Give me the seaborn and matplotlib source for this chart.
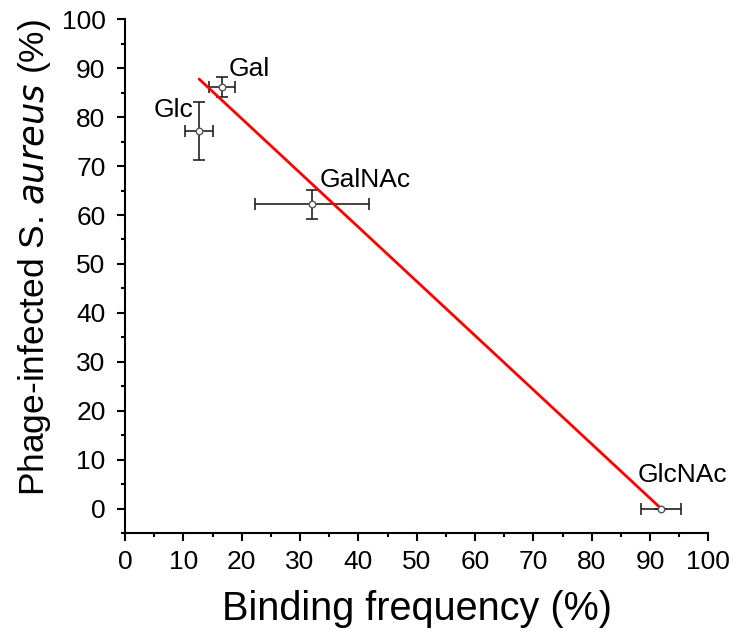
import numpy as np
import pandas as pd
import seaborn as sns
import matplotlib.pyplot as plt
from matplotlib.ticker import MultipleLocator

# данные
sugars = ["Gal", "Glc", "GalNAc", "GlcNAc"]
binding = [16.6, 12.7, 32.1, 91.9]
binding_err = [2.2, 2.4, 9.8, 3.4]
infected = [86.2, 77.2, 62.2, 0.0]
infected_err = [2.0, 6.0, 3.0, 0.0]

# линия тренда (концы)
fit_x = [12.7, 91.9]
fit_y = [87.8, 0.0]

# позиции подписей
label_x = [17.7, 11.7, 33.4, 87.8]
label_y = [89.8, 81.5, 67.1, 6.8]
label_ha = ["left", "right", "left", "left"]

df = pd.DataFrame({"sugar": sugars, "binding": binding, "infected": infected})
fit = pd.DataFrame({"x": fit_x, "y": fit_y})

sns.set_style("ticks")
plt.rcParams["font.family"] = ["Liberation Sans", "DejaVu Sans"]
plt.rcParams["text.color"] = "black"
plt.rcParams["axes.labelcolor"] = "black"

fig = plt.figure(figsize=(7.38, 6.38), dpi=100)
ax = fig.add_axes([0.1694, 0.1646, 0.7904, 0.8051])

ax.errorbar(binding, infected, xerr=binding_err, yerr=infected_err,
            fmt="none", ecolor="#222222", elinewidth=1.2, capsize=4, capthick=1.2, zorder=2)
sns.lineplot(data=fit, x="x", y="y", color="red", linewidth=2, ax=ax, zorder=3)
sns.scatterplot(data=df, x="binding", y="infected", ax=ax, s=22, color="white",
                edgecolor="#555555", linewidth=1, zorder=4)

for s, lx, ly, ha in zip(sugars, label_x, label_y, label_ha):
    ax.text(lx, ly, s, fontsize=19, ha=ha, va="center", color="black")

ax.set_xlim(0, 100)
ax.set_ylim(-5, 100)
ax.xaxis.set_major_locator(MultipleLocator(10))
ax.xaxis.set_minor_locator(MultipleLocator(5))
ax.yaxis.set_major_locator(MultipleLocator(10))
ax.yaxis.set_minor_locator(MultipleLocator(5))
ax.tick_params(which="both", colors="black")
ax.tick_params(which="major", direction="out", length=6, width=1.5, labelsize=19)
ax.tick_params(which="minor", direction="out", length=3, width=1.5)
ax.tick_params(axis="y", which="major", pad=8)
ax.tick_params(axis="x", which="major", pad=6)
for side in ["left", "bottom"]:
    ax.spines[side].set_linewidth(1.5)
    ax.spines[side].set_color("black")
sns.despine(ax=ax)

ax.set_xlabel("Binding frequency (%)", fontsize=28.5, labelpad=12)
ax.set_ylabel(r"Phage-infected S. $\it{aureus}$ (%)", fontsize=25.5)
ax.yaxis.set_label_coords(-0.124, 0.537)

fig.savefig("out.png", dpi=100)
